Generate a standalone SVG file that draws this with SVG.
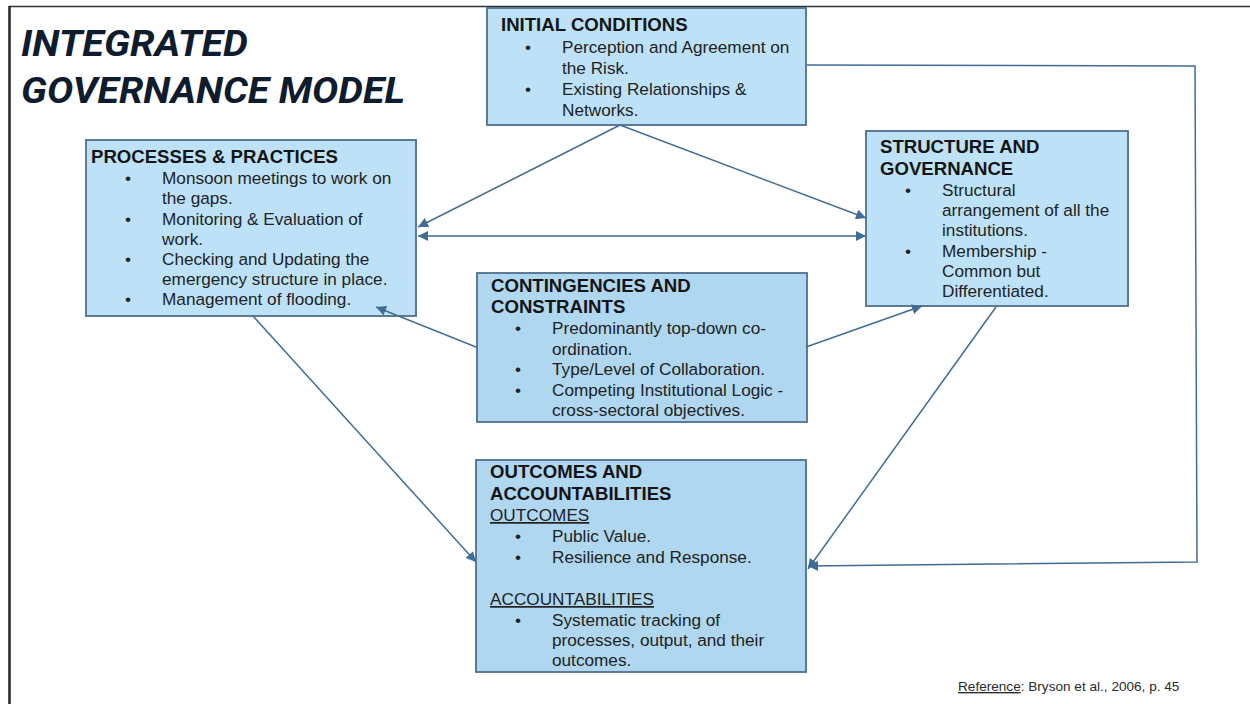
<svg xmlns="http://www.w3.org/2000/svg" width="1250" height="704" viewBox="0 0 1250 704">
  <style>
    .box { stroke: #4f6f8c; stroke-width: 1.8; }
    .pale { fill: #bde2f7; }
    .deep { fill: #afd7f0; }
    .hd { font-family: "Liberation Sans", Arial, sans-serif; font-weight: bold; font-size: 18.6px; fill: #141414; }
    .tx { font-family: "Liberation Sans", Arial, sans-serif; font-size: 17.2px; fill: #222; }
    .ul { text-decoration: underline; }
    .title { font-family: Roboto, "Liberation Sans", sans-serif; font-weight: bold; font-style: italic; font-size: 36px; fill: #0f1c2e; }
    .link { fill: none; stroke: #3f6d96; stroke-width: 1.5; }
  </style>
  <defs>
    <marker id="arrow" viewBox="0 0 10 10" refX="10" refY="5" markerWidth="12" markerHeight="10" markerUnits="userSpaceOnUse" orient="auto-start-reverse">
      <path d="M0,0 L10,5 L0,10 Z" fill="#3f6d96"/>
    </marker>
  </defs>

  <rect width="1250" height="704" fill="#ffffff"/>

  <!-- page frame -->
  <line x1="9" y1="6.5" x2="1250" y2="6.5" stroke="#333" stroke-width="1.5"/>
  <line x1="9.5" y1="6" x2="9.5" y2="704" stroke="#2a2a2a" stroke-width="2.6"/>

  <!-- title -->
  <text class="title" x="21" y="56" textLength="227" lengthAdjust="spacingAndGlyphs">INTEGRATED</text>
  <text class="title" x="21" y="103" textLength="384" lengthAdjust="spacingAndGlyphs">GOVERNANCE MODEL</text>

  <!-- initial conditions -->
  <g id="initial-conditions">
    <rect class="box pale" x="487" y="8" width="319" height="117"/>
    <text class="hd" x="501" y="31">INITIAL CONDITIONS</text>
    <text class="tx" x="525" y="53">•</text>
    <text class="tx" x="562" y="53">Perception and Agreement on</text>
    <text class="tx" x="562" y="74">the Risk.</text>
    <text class="tx" x="525" y="95">•</text>
    <text class="tx" x="562" y="95">Existing Relationships &amp;</text>
    <text class="tx" x="562" y="116">Networks.</text>
  </g>

  <!-- processes and practices -->
  <g id="processes-practices">
    <rect class="box pale" x="86" y="140" width="330" height="176"/>
    <text class="hd" x="91" y="163">PROCESSES &amp; PRACTICES</text>
    <text class="tx" x="125" y="184">•</text>
    <text class="tx" x="162" y="184">Monsoon meetings to work on</text>
    <text class="tx" x="162" y="204">the gaps.</text>
    <text class="tx" x="125" y="224.5">•</text>
    <text class="tx" x="162" y="224.5">Monitoring &amp; Evaluation of</text>
    <text class="tx" x="162" y="244.5">work.</text>
    <text class="tx" x="125" y="265">•</text>
    <text class="tx" x="162" y="265">Checking and Updating the</text>
    <text class="tx" x="162" y="285">emergency structure in place.</text>
    <text class="tx" x="125" y="305">•</text>
    <text class="tx" x="162" y="305">Management of flooding.</text>
  </g>

  <!-- structure and governance -->
  <g id="structure-governance">
    <rect class="box pale" x="866" y="131" width="262" height="175"/>
    <text class="hd" x="880" y="153">STRUCTURE AND</text>
    <text class="hd" x="880" y="175">GOVERNANCE</text>
    <text class="tx" x="905" y="196">•</text>
    <text class="tx" x="942" y="196">Structural</text>
    <text class="tx" x="942" y="216">arrangement of all the</text>
    <text class="tx" x="942" y="236">institutions.</text>
    <text class="tx" x="905" y="256.5">•</text>
    <text class="tx" x="942" y="256.5">Membership -</text>
    <text class="tx" x="942" y="276.5">Common but</text>
    <text class="tx" x="942" y="297">Differentiated.</text>
  </g>

  <!-- contingencies and constraints -->
  <g id="contingencies-constraints">
    <rect class="box deep" x="477" y="273" width="330" height="149"/>
    <text class="hd" x="491" y="292">CONTINGENCIES AND</text>
    <text class="hd" x="491" y="313">CONSTRAINTS</text>
    <text class="tx" x="515" y="334">•</text>
    <text class="tx" x="552" y="334">Predominantly top-down co-</text>
    <text class="tx" x="552" y="354.5">ordination.</text>
    <text class="tx" x="515" y="375">•</text>
    <text class="tx" x="552" y="375">Type/Level of Collaboration.</text>
    <text class="tx" x="515" y="395.5">•</text>
    <text class="tx" x="552" y="395.5">Competing Institutional Logic -</text>
    <text class="tx" x="552" y="416">cross-sectoral objectives.</text>
  </g>

  <!-- outcomes and accountabilities -->
  <g id="outcomes-accountabilities">
    <rect class="box deep" x="476" y="460" width="330" height="212"/>
    <text class="hd" x="490" y="478">OUTCOMES AND</text>
    <text class="hd" x="490" y="500">ACCOUNTABILITIES</text>
    <text class="tx ul" x="490" y="521">OUTCOMES</text>
    <text class="tx" x="515" y="542">•</text>
    <text class="tx" x="552" y="542">Public Value.</text>
    <text class="tx" x="515" y="562.5">•</text>
    <text class="tx" x="552" y="562.5">Resilience and Response.</text>
    <text class="tx ul" x="490" y="605">ACCOUNTABILITIES</text>
    <text class="tx" x="515" y="625.5">•</text>
    <text class="tx" x="552" y="625.5">Systematic tracking of</text>
    <text class="tx" x="552" y="645.5">processes, output, and their</text>
    <text class="tx" x="552" y="665.5">outcomes.</text>
  </g>

  <!-- connectors, drawn over the boxes so arrowheads stay visible -->
  <g id="connectors">
    <line class="link" x1="620" y1="125" x2="418" y2="227" marker-end="url(#arrow)"/>
    <line class="link" x1="620" y1="125" x2="866" y2="218" marker-end="url(#arrow)"/>
    <line class="link" x1="418" y1="236" x2="866" y2="236" marker-start="url(#arrow)" marker-end="url(#arrow)"/>
    <line class="link" x1="476" y1="347" x2="376" y2="307" marker-end="url(#arrow)"/>
    <line class="link" x1="806" y1="347" x2="922" y2="306" marker-end="url(#arrow)"/>
    <line class="link" x1="253" y1="316" x2="476" y2="562" marker-end="url(#arrow)"/>
    <line class="link" x1="996" y1="307" x2="808" y2="569" marker-end="url(#arrow)"/>
    <polyline class="link" points="807,65 1195,66 1197,562 808,566" marker-end="url(#arrow)"/>
  </g>

  <!-- citation -->
  <text x="958" y="691" font-family="Liberation Sans, Arial, sans-serif" font-size="13.6" fill="#2a2a2a"><tspan text-decoration="underline">Reference</tspan>: Bryson et al., 2006, p. 45</text>
</svg>
